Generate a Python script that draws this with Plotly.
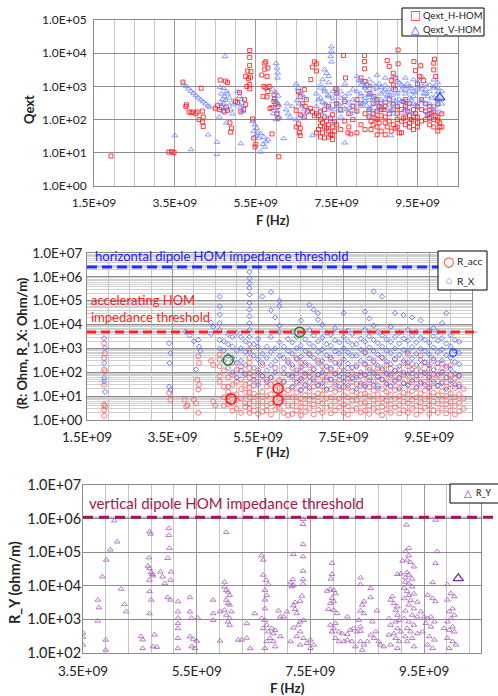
import plotly.graph_objects as go

# ---------------- Panel 1 : Qext vs F (GHz, Qext) ----------------
qext_h = [
    (1.92, 8), (3.35, 10.5), (3.42, 10.8), (3.48, 10.2),
    (3.70, 1350), (3.79, 280), (3.77, 250), (3.85, 170), (3.90, 160), (3.95, 168), (4.02, 150),
    (4.05, 170), (4.10, 100), (4.15, 880), (4.18, 180), (4.20, 120), (4.18, 85), (4.20, 62),
    (4.50, 220), (4.55, 260), (4.60, 200), (4.65, 230), (4.72, 170), (4.77, 240), (4.80, 190),
    (4.62, 1550), (4.75, 1450), (4.80, 1300), (4.88, 42), (4.90, 55), (4.86, 80),
    (5.00, 360), (5.05, 330), (5.10, 650), (5.13, 170),
    (5.35, 12000), (5.35, 7500), (5.35, 4300), (5.30, 2900), (5.38, 2800), (5.25, 2000),
    (5.32, 1700), (5.37, 1900), (5.35, 1150), (5.35, 850), (5.28, 1000), (5.22, 400), (5.25, 280), (5.20, 200),
    (5.42, 105), (5.50, 18), (5.45, 28), (5.48, 15),
    (5.72, 5000), (5.75, 5500), (5.72, 3300), (5.80, 3600), (5.65, 2200), (5.78, 2000), (5.70, 1000),
    (5.83, 1000), (5.75, 900), (5.80, 700), (5.68, 500), (5.78, 480),
    (5.95, 560), (5.97, 420), (5.95, 350), (6.00, 300), (6.05, 250), (5.85, 215), (5.90, 230),
    (6.02, 150), (6.05, 110), (5.90, 37), (6.07, 7.6),
    (6.50, 190), (6.55, 700), (6.60, 500), (6.70, 800), (6.75, 400), (6.65, 300), (6.72, 250),
    (6.78, 180), (6.60, 140), (6.70, 120), (6.56, 74), (6.60, 55), (6.58, 40), (6.60, 33), (6.50, 60),
    (6.85, 220), (6.90, 170), (6.95, 130), (7.00, 4800), (7.00, 2900), (6.86, 1600), (6.95, 5500), (6.90, 3800),
    (7.05, 130), (7.10, 100), (7.15, 80), (7.20, 120), (7.25, 90), (7.30, 70), (7.35, 110), (7.40, 60),
    (7.45, 85), (7.05, 50), (7.15, 40), (7.25, 55), (7.35, 35), (7.45, 45), (7.10, 65), (7.30, 30),
    (7.20, 28), (7.40, 25),
    (7.50, 630), (7.67, 8500), (7.72, 1800), (7.48, 850), (7.78, 40), (7.85, 37),
    (8.19, 8500), (8.19, 5600), (8.19, 3400), (8.10, 1800), (8.20, 1400), (8.25, 1100),
    (8.30, 120), (8.35, 90), (8.40, 70), (8.45, 110), (8.50, 60), (8.55, 80), (8.60, 45), (8.35, 50),
    (8.50, 35), (8.42, 500), (8.50, 400), (8.60, 300), (8.67, 200), (8.55, 250),
    (8.75, 6000), (8.80, 4000), (8.90, 2500), (8.95, 1800), (8.85, 1500), (9.02, 12500), (9.02, 4800),
    (8.90, 1100), (8.95, 800), (8.70, 120), (8.80, 90), (8.90, 70), (9.00, 100), (8.75, 60), (8.85, 45),
    (8.95, 55), (9.05, 40), (8.70, 35),
    (9.15, 350), (9.20, 250), (9.25, 180), (9.30, 130), (9.35, 100), (9.40, 200), (9.45, 150), (9.50, 80),
    (9.20, 70), (9.30, 60), (9.40, 90), (9.50, 120), (9.15, 110),
    (9.41, 5600), (9.58, 4200), (9.45, 3000), (9.55, 2000), (9.65, 1500), (9.50, 1200),
    (9.92, 6600), (9.90, 5000), (9.90, 3150), (9.95, 2000),
    (9.70, 180), (9.75, 140), (9.80, 110), (9.85, 160), (9.90, 100), (9.95, 130), (10.00, 90),
    (10.05, 80), (10.05, 60), (10.00, 45), (9.80, 70),
]
# further H-HOM modes in the dense 7-10 GHz band (columns: GHz -> Qext values)
qext_h_band_f = [7.0, 7.1, 7.2, 7.3, 7.4, 7.5, 7.6, 7.7, 7.8, 7.9, 8.0, 8.1, 8.2, 8.3, 8.4, 8.5,
                 8.6, 8.7, 8.8, 8.9, 9.0, 9.1, 9.2, 9.3, 9.4, 9.5, 9.6, 9.7, 9.8, 9.9, 10.0, 10.1]
qext_h_band_q = [[40, 150], [30, 180], [60, 200], [45, 250], [35, 140], [70, 300], [50, 200], [90, 350],
                 [60, 150], [100, 250], [40, 180, 400], [70, 300], [50, 150], [200, 600], [150, 300],
                 [100, 180], [130, 200], [80, 250], [150, 400], [200, 300], [60, 150, 250], [40, 90, 200],
                 [120, 400], [80, 300], [50, 120], [60, 250], [90, 200, 400], [100, 300], [150, 250],
                 [60, 180], [120, 300], [60, 150]]
qext_v = [
    (3.50, 33), (3.90, 12.6), (4.32, 35), (4.54, 21), (4.54, 9), (5.13, 19), (5.62, 10.7), (6.19, 27), (4.77, 80),
    (3.72, 1200), (3.78, 1000), (3.84, 850), (3.90, 720), (3.96, 620), (4.02, 530), (4.08, 460),
    (4.14, 400), (4.20, 350), (4.26, 300), (4.32, 260), (4.36, 240),
    (4.74, 8000),
    (4.62, 950), (4.70, 880), (4.78, 700), (4.65, 600), (4.72, 500), (4.68, 420), (4.75, 380), (4.62, 330),
    (4.70, 300), (4.66, 250), (4.74, 230), (4.80, 600), (4.85, 450), (4.90, 320), (4.95, 280), (4.88, 200),
    (4.92, 150), (4.70, 180), (4.60, 120),
    (5.05, 700), (5.10, 500), (5.15, 400), (5.08, 300), (5.12, 230), (5.18, 180), (5.20, 260),
    (5.42, 90), (5.48, 70), (5.52, 55), (5.45, 45), (5.55, 40), (5.50, 32), (5.58, 28),
    (5.62, 38), (5.70, 30), (5.75, 22), (5.68, 18), (5.80, 25), (5.72, 15),
    (6.00, 5000), (6.02, 3600), (6.04, 2550), (6.04, 1800),
    (5.92, 800), (6.00, 650), (6.05, 520), (5.95, 420), (6.02, 340), (6.07, 280), (5.97, 220), (6.03, 180),
    (5.93, 150), (6.08, 120), (6.00, 100),
    (6.25, 200), (6.30, 150), (6.35, 120), (6.40, 250), (6.28, 300),
    (6.50, 1200), (6.55, 900), (6.60, 700), (6.65, 560), (6.70, 450), (6.52, 380), (6.58, 300), (6.64, 250),
    (6.70, 200), (6.75, 160), (6.62, 130), (6.68, 110), (6.50, 100), (6.90, 33),
    (7.37, 15800), (7.37, 11500), (7.35, 8000), (7.37, 5500), (7.20, 3200), (7.25, 2500), (7.30, 2000),
    (7.15, 1600), (7.30, 1300), (7.10, 900), (7.20, 700), (7.28, 550), (7.40, 450), (7.05, 400), (7.15, 330),
    (7.25, 280), (7.35, 230), (7.45, 200), (7.10, 170), (7.20, 130), (7.30, 110), (7.40, 90),
    (7.50, 600), (7.60, 450), (7.70, 380), (7.55, 300), (7.65, 250), (7.80, 320), (7.90, 260), (7.75, 200),
    (7.85, 150), (7.95, 180), (7.70, 20), (7.60, 120),
    (8.05, 1500), (8.10, 1100), (8.15, 1300), (8.20, 900), (8.30, 1000), (8.25, 750), (8.35, 600), (8.40, 800),
    (8.10, 500), (8.20, 450), (8.30, 380), (8.45, 420), (8.15, 320), (8.25, 260), (8.35, 220), (8.45, 300),
    (8.50, 200), (8.40, 150), (8.30, 130),
    (8.55, 1200), (8.60, 950), (8.70, 1100), (8.80, 800), (8.65, 700), (8.75, 550), (8.85, 650), (8.90, 450),
    (8.60, 400), (8.70, 330), (8.80, 280), (8.95, 350), (8.65, 220), (8.85, 200), (8.84, 33), (8.90, 150),
    (9.05, 1300), (9.15, 1000), (9.25, 1200), (9.35, 900), (9.10, 750), (9.20, 600), (9.30, 700), (9.40, 500),
    (9.45, 650), (9.05, 400), (9.15, 350), (9.25, 300), (9.35, 420), (9.45, 280), (9.20, 220), (9.30, 180),
    (9.40, 150), (9.10, 160),
    (9.55, 1400), (9.60, 1000), (9.70, 800), (9.80, 1100), (9.90, 900), (10.00, 1300), (10.02, 700),
    (9.65, 600), (9.75, 500), (9.85, 450), (9.95, 550), (10.05, 400), (9.60, 350), (9.70, 300), (9.80, 250),
    (9.90, 200), (10.00, 280), (9.75, 150), (9.85, 120), (10.05, 170),
]
qext_v_band_f = [7.0, 7.1, 7.2, 7.3, 7.4, 7.5, 7.6, 7.7, 7.8, 7.9, 8.0, 8.1, 8.2, 8.3, 8.4, 8.5,
                 8.6, 8.7, 8.8, 8.9, 9.0, 9.1, 9.2, 9.3, 9.4, 9.5, 9.6, 9.7, 9.8, 9.9, 10.0, 10.1]
qext_v_band_q = [[250, 600], [450, 1100], [300, 800], [200, 500], [350, 700], [250, 900], [180, 700],
                 [500, 1200], [220, 600], [400, 800], [300, 700, 2000], [250, 600, 1500], [350, 1000],
                 [200, 550, 1600], [450, 1200], [300, 900, 2200], [250, 600], [400, 800, 1800], [180, 550],
                 [300, 900, 2000], [250, 600, 1500], [350, 1100], [200, 800, 1800], [450, 1000],
                 [300, 700, 1600], [250, 900], [400, 800, 2000], [180, 600, 1200], [300, 700],
                 [250, 1000, 1600], [400, 900], [300, 700]]
qext_v_marked = [(10.05, 460)]

# ---------------- Panel 2 : R_acc (Ohm) and R_X (Ohm/m) ----------------
r_acc = [
    (1.90, 1660), (1.92, 630), (1.90, 400), (1.90, 130), (1.92, 110), (1.90, 30), (1.90, 4.4), (1.92, 3.7),
    (1.90, 2.7), (1.90, 1.5), (3.42, 13.5), (3.45, 7), (3.78, 7), (3.82, 3.7), (3.85, 4.2),
    (4.00, 7), (4.05, 5), (4.10, 2.0), (4.10, 470), (4.12, 245), (4.08, 49), (4.12, 30), (4.10, 19),
    (4.40, 300), (4.45, 200), (4.50, 4), (4.45, 6),
]
r_acc_band_f = [4.6, 4.7, 4.8, 4.9, 5.0, 5.1, 5.2, 5.3, 5.4, 5.5, 5.6, 5.7, 5.8, 5.9, 6.0, 6.1, 6.2,
                6.3, 6.4, 6.5, 6.6, 6.7, 6.8, 6.9, 7.0, 7.1, 7.2, 7.3, 7.4, 7.5, 7.6, 7.7, 7.8, 7.9,
                8.0, 8.1, 8.2, 8.3, 8.4, 8.5, 8.6, 8.7, 8.8, 8.9, 9.0, 9.1, 9.2, 9.3, 9.4, 9.5,
                9.6, 9.7, 9.8, 9.9, 10.0, 10.1, 10.2, 10.3]
r_acc_band_v = [
    [550, 340, 180, 68, 40], [4, 9, 25, 120], [4.5, 6, 10, 15, 25, 60], [2.5, 5, 11, 30, 80, 250],
    [3, 7, 12, 40, 125], [2, 8, 20, 50, 170], [3.5, 5, 14, 30, 90],
    [2, 3, 5, 9, 14, 22, 35, 60, 90, 150, 250, 400, 900], [2.5, 6, 13, 28, 70], [1.8, 4, 10, 40, 120],
    [2.2, 6, 15, 70, 200], [2.5, 4, 10, 25, 50], [1.7, 5, 12, 30, 60], [2.8, 5, 18, 35, 150],
    [3, 8, 12, 22, 45], [2, 6, 14, 40, 90], [1.6, 4, 9, 18, 300],
    [1.8, 4, 9, 22, 60, 150], [2.5, 6, 14, 35, 90, 400], [1.6, 3.5, 8, 18, 45, 120, 250],
    [2.2, 5, 11, 28, 70, 200], [3, 7, 16, 40, 100, 600], [1.7, 4.5, 10, 25, 55, 140],
    [2.8, 6, 13, 30, 80, 300], [2, 5, 12, 26, 65, 180], [3.2, 8, 18, 45, 110],
    [1.9, 4, 9, 20, 50, 130, 350], [2.5, 6, 15, 38, 90], [3.5, 8, 19, 48, 120, 260], [2, 4.5, 11, 24, 60],
    [1.7, 3.8, 9, 22, 55, 150], [2.6, 6.5, 16, 40, 95], [3, 7, 14, 32, 75, 200], [2.1, 5, 12, 28, 70],
    [2.5, 5.5, 13, 30, 80, 220, 700], [1.8, 4, 10, 24, 60, 160], [3, 7, 17, 42, 100, 300],
    [2.2, 5, 12, 28, 65, 150], [1.6, 3.6, 8, 20, 50, 120, 400], [2.8, 6.5, 15, 36, 85, 200],
    [2, 4.5, 11, 26, 60, 140], [3.3, 7.5, 18, 45, 110, 350], [1.9, 4.2, 10, 23, 55, 130],
    [2.6, 6, 14, 34, 80, 250], [2, 5, 12, 30, 70, 180, 600], [3, 7, 16, 38, 90, 220],
    [1.7, 4, 9, 21, 50, 120], [2.4, 5.5, 13, 32, 75, 190, 500], [3.2, 7.5, 17, 40, 100, 260],
    [1.8, 4.2, 10, 24, 58, 140], [2.6, 6, 14, 34, 85, 300], [2, 4.8, 11, 27, 65, 160],
    [3, 7, 16, 40, 95, 230], [1.9, 4.5, 10, 25, 60, 150], [2.5, 5.8, 13, 32, 80, 200],
    [1.7, 3.9, 9, 22, 55], [2.3, 5.2, 12, 30, 70], [3, 8, 20],
]
r_x = [
    (1.90, 2700), (1.92, 1050), (1.90, 245), (1.90, 58), (1.90, 42), (1.92, 15),
    (3.42, 1650), (3.45, 630), (3.43, 245), (3.42, 25), (3.45, 18),
    (3.80, 5000), (3.90, 3500), (4.00, 2000), (4.10, 2300), (4.12, 1200), (4.05, 130), (4.15, 800),
    (4.40, 12000), (4.45, 8000), (4.40, 4000),
]
r_x_band_f = r_acc_band_f[:-1]
r_x_band_v = [
    [150000, 57000, 26000, 11500, 6000, 2300, 1000], [300, 800, 2000], [150, 500, 1500, 4000],
    [100, 400, 1200, 3000], [60, 250, 800, 4500], [120, 300, 1000, 3000], [80, 200, 700, 2000],
    [1.6e6, 870000, 540000, 340000, 180000, 80000, 42000, 22000, 11500, 6000, 3000, 1500, 700],
    [50, 150, 500, 1500], [30, 100, 350, 1200, 2500], [150000, 70, 250, 600], [40, 120, 400, 1200],
    [230000, 40000, 60, 200, 700, 3000], [20000, 100, 300, 1000], [100000, 60000, 9000, 5000, 1800, 500],
    [40, 150, 400, 1200], [2500, 80, 250, 800],
    [25, 70, 200, 600, 1800, 5000], [40, 120, 350, 1000, 3000], [18, 55, 160, 450, 1300, 4000, 15000],
    [30, 90, 260, 800, 2400], [22, 65, 190, 550, 1600, 6000, 68000], [45, 130, 400, 1200, 3500, 42000],
    [28, 80, 240, 700, 2000, 16000, 30000], [35, 100, 300, 900, 2800, 9800], [20, 60, 180, 520, 1500, 4500],
    [50, 150, 420, 1300, 3800], [30, 85, 250, 750, 2200, 7000], [24, 70, 210, 620, 1800],
    [40, 120, 350, 1000, 3000, 30000], [28, 80, 230, 680, 2000, 5500], [55, 160, 480, 1400, 4000],
    [20, 60, 170, 500, 1500], [35, 100, 300, 900, 2600], [25, 75, 220, 650, 1900, 6000, 35000],
    [45, 130, 380, 1100, 3200, 18000], [30, 90, 260, 780, 2300, 9000, 245000], [22, 65, 190, 560, 1700, 5000],
    [50, 140, 420, 1200, 3500, 150000], [32, 95, 280, 820, 2400], [26, 75, 220, 640, 1900, 8000],
    [40, 120, 360, 1000, 3000, 30000], [20, 60, 180, 540, 1600, 4500], [35, 100, 300, 880, 2600, 25000],
    [28, 85, 250, 720, 2100, 6000], [45, 130, 390, 1150, 3400, 20000], [24, 70, 200, 600, 1800, 5000],
    [38, 110, 330, 950, 2800, 15000], [30, 90, 260, 780, 2300], [22, 65, 190, 560, 1700, 5500],
    [42, 125, 370, 1100, 3200, 7000], [28, 80, 240, 700, 2100, 5000], [35, 105, 310, 900, 2700, 11500],
    [20, 60, 180, 520, 1600, 30000], [45, 135, 400, 1200, 3500], [30, 90, 270, 800, 2300],
    [25, 75, 220, 650, 1900],
]
r_acc_marked = [(4.87, 7.6), (5.97, 21), (5.97, 6.9)]
r_green_marked = [(4.80, 325), (6.47, 4800)]
r_x_marked = [(10.06, 660)]
threshold_h_dipole = 2.6e6   # Ohm/m
threshold_acc = 4.9e3        # Ohm

# ---------------- Panel 3 : R_Y (ohm/m) ----------------
r_y = [
    (3.50, 400), (3.50, 300), (3.50, 175), (3.76, 3800), (3.78, 2250), (3.76, 900), (3.84, 18600),
    (3.91, 59000), (3.98, 118000), (4.10, 204000), (4.05, 870000), (3.90, 245), (3.90, 123), (4.17, 8000),
    (4.23, 2800), (4.26, 1700), (4.52, 310), (4.55, 250), (4.55, 138),
    (4.67, 410000), (4.69, 350000), (4.66, 69000), (4.64, 39000), (4.67, 33000), (4.70, 25000), (4.72, 22000),
    (4.73, 20000), (4.67, 14800), (4.67, 6800), (4.70, 3800), (4.67, 1500), (4.76, 350), (4.73, 155), (4.80, 150),
    (4.86, 26000), (4.90, 18600), (4.94, 11700),
    (5.01, 510000), (5.01, 320000), (5.02, 132000), (4.99, 66000), (5.05, 26000), (5.04, 14800),
    (4.99, 4500), (5.04, 3800),
    (5.17, 3400), (5.17, 1700), (5.17, 1100), (5.17, 760), (5.17, 540), (5.17, 275), (5.17, 138),
    (5.38, 4500), (5.38, 1700), (5.41, 1100), (5.38, 310), (5.44, 260), (5.50, 230), (5.41, 155), (5.47, 138),
    (5.52, 1100), (5.79, 3800), (5.79, 1500), (5.79, 950), (5.91, 230), (5.91, 1700),
    (5.99, 13000), (5.99, 9300), (6.02, 7400), (6.05, 6600), (6.08, 5200), (6.02, 390000),
    (6.02, 3800), (6.05, 3000), (6.08, 2700), (5.99, 1900), (6.11, 1700), (6.02, 1350), (6.08, 1070),
    (6.05, 850), (6.08, 680),
    (6.23, 245), (6.29, 245), (6.38, 280), (6.44, 138), (6.38, 760), (6.52, 1500),
    (6.64, 79000), (6.67, 59000), (6.67, 21000), (6.72, 14800), (6.76, 11000), (6.70, 7400), (6.73, 5200),
    (6.70, 3800), (6.70, 2100), (6.64, 1070), (6.70, 950), (6.73, 680), (6.67, 540), (6.76, 430),
    (6.82, 540), (6.88, 480), (6.85, 380), (6.79, 275), (6.85, 220), (6.73, 220), (6.70, 138), (6.88, 155),
    (6.94, 1800), (6.97, 1200), (6.97, 310),
    (7.37, 950000), (7.37, 680000), (7.37, 170000), (7.20, 87000), (7.37, 74000), (7.37, 27500),
    (7.37, 15500), (7.37, 11200), (7.19, 15500), (7.20, 10500), (7.15, 12500), (7.17, 9500),
    (7.35, 5000), (7.32, 3500), (7.23, 3200), (7.20, 2600), (7.23, 2000), (7.26, 1500), (7.09, 1700),
    (7.03, 1200), (7.32, 850), (7.38, 950), (7.29, 680), (7.20, 560), (7.32, 430), (7.26, 310),
    (7.38, 275), (7.50, 245), (7.44, 195), (7.56, 175), (7.50, 138), (7.32, 175), (7.15, 220),
    (7.88, 47000), (7.88, 22000), (7.86, 16000), (7.85, 8000), (7.91, 7400), (7.94, 5900), (7.79, 7000),
    (7.88, 4300), (7.91, 3400), (7.85, 3000), (7.82, 2000), (7.91, 1900), (7.97, 1500),
    (7.94, 760), (7.85, 680), (7.91, 540), (7.88, 430),
    (8.00, 430), (8.06, 380), (8.15, 360), (8.20, 480), (8.26, 540), (8.32, 430), (8.38, 450), (8.38, 600),
    (7.94, 275), (8.00, 220), (8.09, 220), (8.15, 245), (8.23, 220), (8.29, 155), (8.38, 220), (8.44, 175),
    (8.50, 220), (8.41, 123), (8.15, 1200),
    (8.38, 17400), (8.38, 11000), (8.44, 3400), (8.41, 2700), (8.38, 1800), (8.44, 1500), (8.35, 950),
    (8.56, 8400), (8.56, 4500), (8.59, 850), (8.65, 430), (8.56, 345), (8.62, 275), (8.70, 220),
    (8.73, 175), (8.79, 155), (8.67, 1800),
    (8.94, 4800), (8.91, 3800), (8.97, 3000), (9.03, 2400), (9.00, 1900), (9.03, 1350),
    (8.88, 1070), (9.00, 850), (9.06, 950), (8.91, 680), (9.03, 540), (9.09, 430), (8.97, 380), (8.88, 345),
    (9.00, 275), (9.06, 220), (8.91, 175), (9.03, 138), (9.03, 22000), (9.09, 23000),
    (9.19, 650000), (9.23, 132000), (9.17, 105000), (9.23, 79000), (9.20, 59000), (9.12, 55000),
    (9.26, 50000), (9.32, 37000), (9.20, 25000), (9.23, 21000), (9.17, 17500), (9.29, 16000),
    (9.17, 13000), (9.23, 11500), (9.29, 9300), (9.15, 8600), (9.20, 6900), (9.32, 5800), (9.23, 5200),
    (9.15, 4200), (9.26, 3700), (9.38, 3300), (9.23, 2700), (9.32, 2100), (9.17, 1800), (9.29, 1350),
    (9.38, 1200), (9.15, 1070), (9.23, 850), (9.32, 680), (9.20, 540), (9.26, 430), (9.38, 380),
    (9.17, 310), (9.29, 275), (9.20, 220), (9.32, 155),
    (9.44, 1700), (9.50, 1200), (9.56, 1070), (9.62, 1200), (9.68, 850), (9.53, 760), (9.62, 600),
    (9.47, 430), (9.59, 310), (9.68, 245), (9.56, 175), (9.65, 138),
    (9.70, 910000), (9.73, 105000), (9.70, 47000), (9.65, 12600), (9.56, 5300), (9.65, 4200), (9.70, 3400),
    (9.91, 11000), (9.97, 5900), (10.03, 4800), (9.91, 3800), (10.00, 2100), (9.94, 1700), (10.03, 1350),
    (9.97, 1070), (9.91, 850), (10.00, 600), (9.94, 480), (10.03, 430), (9.91, 275), (10.00, 220),
    (10.06, 175), (9.94, 138), (9.85, 540),
]
r_y_marked = [(10.10, 16700)]
threshold_v_dipole = 1.1e6   # ohm/m

# ---------------- axis ticks ----------------
x_ticks_a = [1.5e9, 3.5e9, 5.5e9, 7.5e9, 9.5e9]
x_ticks_b = [3.5e9, 5.5e9, 7.5e9, 9.5e9]
x_minor_a = [2.0e9, 2.5e9, 3.0e9, 4.0e9, 4.5e9, 5.0e9, 6.0e9, 6.5e9, 7.0e9, 8.0e9, 8.5e9, 9.0e9, 10.0e9, 10.5e9]
x_minor_b = [3.9e9, 4.3e9, 4.7e9, 5.1e9, 5.9e9, 6.3e9, 6.7e9, 7.1e9, 7.9e9, 8.3e9, 8.7e9, 9.1e9, 9.9e9, 10.3e9]
y_ticks_1 = [1e0, 1e1, 1e2, 1e3, 1e4, 1e5]
y_ticks_2 = [1e0, 1e1, 1e2, 1e3, 1e4, 1e5, 1e6, 1e7]
y_ticks_3 = [1e2, 1e3, 1e4, 1e5, 1e6, 1e7]
y_minor_2 = [m * 10 ** d for d in range(7) for m in range(2, 10)]


def sci(v):
    m, e = f"{v:.1E}".split("E")
    return f"{m}E{e[0]}{int(e[1:]):02d}"


def with_band(pairs, band_f, band_v):
    pts = list(pairs)
    for f, vals in zip(band_f, band_v):
        pts.extend((f, v) for v in vals)
    return pts


def fx(pts):
    return [p[0] * 1e9 for p in pts]


def fy(pts):
    return [p[1] for p in pts]


qh_all = with_band(qext_h, qext_h_band_f, qext_h_band_q)
qv_all = with_band(qext_v, qext_v_band_f, qext_v_band_q)
racc_all = with_band(r_acc, r_acc_band_f, r_acc_band_v)
rx_all = with_band(r_x, r_x_band_f, r_x_band_v)

FONT = "Lato, Carlito, Calibri, sans-serif"
W, H = 498, 696


def px_x(p):
    return p / W


def px_y(p):
    return 1 - p / H


fig = go.Figure()

# Panel 1
fig.add_trace(go.Scatter(x=fx(qh_all), y=fy(qh_all), mode="markers", xaxis="x", yaxis="y", name="Qext_H-HOM",
                         marker=dict(symbol="square-open", size=4, color="rgba(255,30,30,0.85)", line=dict(width=1)),
                         showlegend=False))
fig.add_trace(go.Scatter(x=fx(qv_all), y=fy(qv_all), mode="markers", xaxis="x", yaxis="y", name="Qext_V-HOM",
                         marker=dict(symbol="triangle-up-open", size=5, color="rgba(110,130,255,0.8)", line=dict(width=1)),
                         showlegend=False))
fig.add_trace(go.Scatter(x=fx(qext_v_marked), y=fy(qext_v_marked), mode="markers", xaxis="x", yaxis="y",
                         marker=dict(symbol="triangle-up-open", size=9, color="#3344ff", line=dict(width=1.3)),
                         showlegend=False))

# Panel 2
fig.add_trace(go.Scatter(x=fx(racc_all), y=fy(racc_all), mode="markers", xaxis="x2", yaxis="y2", name="R_acc",
                         marker=dict(symbol="circle-open", size=5, color="rgba(255,90,90,0.8)", line=dict(width=1)),
                         showlegend=False))
fig.add_trace(go.Scatter(x=fx(rx_all), y=fy(rx_all), mode="markers", xaxis="x2", yaxis="y2", name="R_X",
                         marker=dict(symbol="diamond-open", size=4, color="rgba(80,100,255,0.85)", line=dict(width=1)),
                         showlegend=False))
fig.add_trace(go.Scatter(x=fx(r_acc_marked), y=fy(r_acc_marked), mode="markers", xaxis="x2", yaxis="y2",
                         marker=dict(symbol="circle-open", size=10, color="#ff1010", line=dict(width=1.5)),
                         showlegend=False))
fig.add_trace(go.Scatter(x=fx(r_green_marked), y=fy(r_green_marked), mode="markers", xaxis="x2", yaxis="y2",
                         marker=dict(symbol="circle-open", size=10, color="#1a8a1a", line=dict(width=1.5)),
                         showlegend=False))
fig.add_trace(go.Scatter(x=fx(r_x_marked), y=fy(r_x_marked), mode="markers", xaxis="x2", yaxis="y2",
                         marker=dict(symbol="circle-open", size=7, color="#3050ff", line=dict(width=1.3)),
                         showlegend=False))

# Panel 3
fig.add_trace(go.Scatter(x=fx(r_y), y=fy(r_y), mode="markers", xaxis="x3", yaxis="y3", name="R_Y",
                         marker=dict(symbol="triangle-up-open", size=5, color="rgba(170,100,190,0.85)", line=dict(width=1)),
                         showlegend=False))
fig.add_trace(go.Scatter(x=fx(r_y_marked), y=fy(r_y_marked), mode="markers", xaxis="x3", yaxis="y3",
                         marker=dict(symbol="triangle-up-open", size=9, color="#7a2a9a", line=dict(width=1.3)),
                         showlegend=False))

grid_major = "#9a9a9a"
grid_minor = "#c4c4c4"


def xaxis(dom, rng, ticks, minor, anchor, fsize, standoff):
    return dict(domain=dom, range=rng, anchor=anchor, tickmode="array", tickvals=ticks,
                ticktext=[sci(v) for v in ticks], showgrid=True, gridcolor=grid_major, gridwidth=1,
                minor=dict(tickvals=minor, showgrid=True, gridcolor=grid_minor, gridwidth=1, ticks=""),
                showline=True, linecolor="#8a8a8a", linewidth=1, mirror=True, ticks="",
                ticklabelstandoff=standoff, tickfont=dict(family=FONT, size=fsize, color="#222"), zeroline=False)


def yaxis(dom, rng, ticks, anchor, fsize, standoff, minor=None):
    d = dict(domain=dom, range=rng, anchor=anchor, type="log", tickmode="array", tickvals=ticks,
             ticktext=[sci(v) for v in ticks], showgrid=True, gridcolor="#8c8c8c", gridwidth=1,
             showline=True, linecolor="#8a8a8a", linewidth=1, mirror=True, ticks="",
             ticklabelstandoff=standoff, tickfont=dict(family=FONT, size=fsize, color="#222"), zeroline=False)
    if minor is not None:
        d["minor"] = dict(tickvals=minor, showgrid=True, gridcolor="#cfcfcf", gridwidth=1, ticks="")
    return d


fig.update_layout(
    width=W, height=H, paper_bgcolor="white", plot_bgcolor="white",
    margin=dict(l=0, r=0, t=0, b=0, autoexpand=False),
    font=dict(family=FONT, color="#222"),
    showlegend=False, hovermode=False,
    xaxis=xaxis([px_x(94), px_x(458)], [1.5e9, 10.5e9], x_ticks_a, x_minor_a, "y", 12, 6),
    yaxis=yaxis([px_y(186), px_y(20)], [0, 5], y_ticks_1, "x", 12, 4),
    xaxis2=xaxis([px_x(87), px_x(472)], [1.5e9, 10.5e9], x_ticks_a, x_minor_a, "y2", 13.5, 5),
    yaxis2=yaxis([px_y(420), px_y(253)], [0, 7], y_ticks_2, "x2", 13.5, 1, minor=y_minor_2),
    xaxis3=xaxis([px_x(83), px_x(481)], [3.5e9, 10.5e9], x_ticks_b, x_minor_b, "y3", 13.5, 6),
    yaxis3=yaxis([px_y(653), px_y(485)], [2, 7], y_ticks_3, "x3", 14.5, -2),
)

# threshold lines (thin underline + thick dashed)
for yref, val, x0, x1, col, dash in [("y2", threshold_h_dipole, px_x(87), px_x(468), "#1f2fff", "10px,5px"),
                                      ("y2", threshold_acc, px_x(87), px_x(478), "#ff2020", "9px,5px"),
                                      ("y3", threshold_v_dipole, px_x(83), px_x(493), "#a8174a", "10px,6px")]:
    fig.add_shape(type="line", xref="paper", yref=yref, x0=x0, x1=x1, y0=val, y1=val,
                  line=dict(color="#7fa6d6", width=1))
    fig.add_shape(type="line", xref="paper", yref=yref, x0=x0, x1=x1, y0=val, y1=val,
                  line=dict(color=col, width=3, dash=dash))

# legend boxes
for (l, t, r, b) in [(402, 8, 484, 36), (438, 251, 487, 290), (450, 484, 505, 503)]:
    fig.add_shape(type="rect", xref="paper", yref="paper", x0=px_x(l), x1=px_x(r), y0=px_y(b), y1=px_y(t),
                  line=dict(color="black", width=1), fillcolor="white", layer="above")

legend_items = [
    ("\u25a1", "#ff1a1a", 12, 415, 15, "Qext_H-HOM", 421, 9.5, "#222"),
    ("\u25b3", "#1a2aff", 11, 415, 29.5, "Qext_V-HOM", 421, 9.5, "#222"),
    ("\u25cb", "#ff1010", 13, 448, 261, "R_acc", 455, 10, "#222"),
    ("<b>\u25cb</b>", "#2040ff", 7, 449, 281, "R_X", 455, 10, "#222"),
    ("\u25b3", "#7a2a9a", 10, 468, 493, "<b>R_Y</b>", 474, 8.5, "#444"),
]
for sym, col, ssize, sx, sy, label, tx, tsize, tcol in legend_items:
    fig.add_annotation(text=sym, x=px_x(sx), y=px_y(sy), xref="paper", yref="paper", showarrow=False,
                       xanchor="center", yanchor="middle", font=dict(family="DejaVu Sans", size=ssize, color=col))
    fig.add_annotation(text=label, x=px_x(tx), y=px_y(sy), xref="paper", yref="paper", showarrow=False,
                       xanchor="left", yanchor="middle", font=dict(family=FONT, size=tsize, color=tcol))

# axis titles and threshold labels
ann = [
    dict(text="<b>Qext</b>", x=px_x(29), y=px_y(110), textangle=-90, size=13),
    dict(text="<b>F (Hz)</b>", x=px_x(273), y=px_y(220), size=13),
    dict(text="<b>(R: Ohm, R_X: Ohm/m)</b>", x=px_x(22), y=px_y(343), textangle=-90, size=13),
    dict(text="<b>F (Hz)</b>", x=px_x(273), y=px_y(452), size=13),
    dict(text="<b>R_Y (ohm/m)</b>", x=px_x(14), y=px_y(583), textangle=-90, size=14.5),
    dict(text="<b>F (Hz)</b>", x=px_x(287), y=px_y(688), size=13.5),
]
for a in ann:
    fig.add_annotation(text=a["text"], x=a["x"], y=a["y"], xref="paper", yref="paper", showarrow=False,
                       textangle=a.get("textangle", 0), xanchor="center", yanchor="middle",
                       font=dict(family=FONT, size=a["size"], color="#222"))

fig.add_annotation(text="horizontal dipole HOM impedance threshold", x=px_x(93), y=px_y(256),
                   xref="paper", yref="paper", showarrow=False, xanchor="left", yanchor="middle",
                   font=dict(family=FONT, size=13, color="#1a1aff"))
fig.add_annotation(text="accelerating HOM<br>impedance threshold", x=px_x(89), y=px_y(308), align="left",
                   xref="paper", yref="paper", showarrow=False, xanchor="left", yanchor="middle",
                   font=dict(family=FONT, size=13, color="#ff2020"))
fig.add_annotation(text="vertical dipole HOM impedance threshold", x=px_x(87), y=px_y(503),
                   xref="paper", yref="paper", showarrow=False, xanchor="left", yanchor="middle",
                   font=dict(family=FONT, size=15, color="#a8174a"))

fig.write_html("out.html", config={"displayModeBar": False, "staticPlot": True},
               post_script="document.body.style.margin='0';document.body.style.overflow='hidden';")
